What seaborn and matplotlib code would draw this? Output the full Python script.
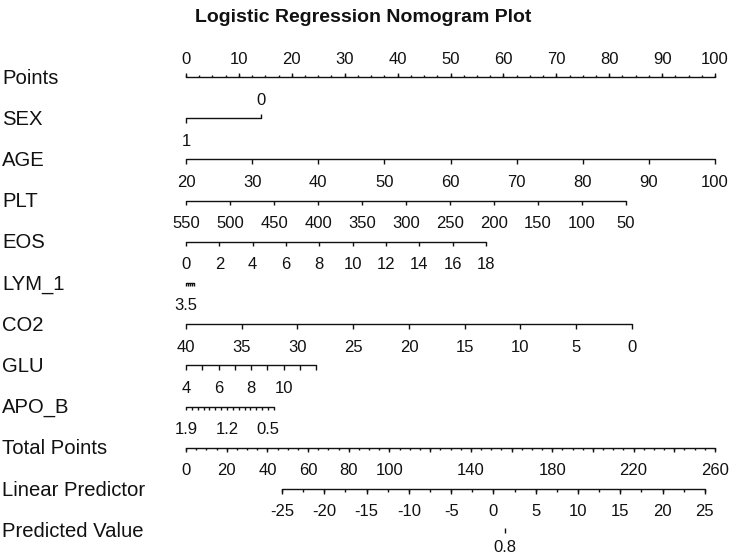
import numpy as np
import matplotlib
matplotlib.use("Agg")
import matplotlib.pyplot as plt
import seaborn as sns

# nomogram scales
# each variable: tick values, and points at first / last tick value
points_labels = [0, 10, 20, 30, 40, 50, 60, 70, 80, 90, 100]

sex_values = [1, 0]
sex_points = [0, 14.2]

age_values = [20, 30, 40, 50, 60, 70, 80, 90, 100]
age_points = [0, 100]

plt_values = [550, 500, 450, 400, 350, 300, 250, 200, 150, 100, 50]
plt_points = [0, 83.2]

eos_values = [0, 2, 4, 6, 8, 10, 12, 14, 16, 18]
eos_points = [0, 56.7]

lym_values = [3.5, 3.0, 2.5, 2.0, 1.5]
lym_labels = [3.5]
lym_points = [0, 1.6]

co2_values = [40, 35, 30, 25, 20, 15, 10, 5, 0]
co2_points = [0, 84.3]

glu_values = [4, 5, 6, 7, 8, 9, 10, 11, 12]
glu_labels = [4, 6, 8, 10]
glu_points = [0, 24.6]

apo_values = [1.9, 1.8, 1.7, 1.6, 1.5, 1.4, 1.3, 1.2, 1.1, 1.0, 0.9, 0.8, 0.7, 0.6, 0.5, 0.4]
apo_labels = [1.9, 1.2, 0.5]
apo_points = [0, 16.6]

total_labels = [0, 20, 40, 60, 80, 100, 140, 180, 220, 260]
total_max = 260

lp_labels = [-25, -20, -15, -10, -5, 0, 5, 10, 15, 20, 25]
lp_total = [47.2, 255.0]   # total points at LP -25 and 25

pred_values = [0.8]

row_names = ['Points', 'SEX', 'AGE', 'PLT', 'EOS', 'LYM_1', 'CO2', 'GLU',
             'APO_B', 'Total Points', 'Linear Predictor', 'Predicted Value']


def to_points(v, values, pts):
    v0, v1 = values[0], values[-1]
    return pts[0] + (np.asarray(v, dtype=float) - v0) / (v1 - v0) * (pts[1] - pts[0])


def fmt(v):
    return ('%g' % v)


sns.set_theme(style='white')
plt.rcParams['font.family'] = ['Liberation Sans', 'DejaVu Sans']

px = 5.29      # pixels per point
x0 = 186       # pixel of point 0
fig = plt.figure(figsize=(7.33, 5.57), dpi=100)
ax = fig.add_axes([0, 0, 1, 1])
ax.set_xlim(-x0 / px, (733 - x0) / px)
ax.set_ylim(557, 0)
ax.axis('off')

lw = 1.0
ink = '#111111'
tick_fs = 12
name_fs = 14.6
below, above = 23, -18
row_y = [77 + i * 41.2 for i in range(len(row_names))]


def scale(y, tick_x, label_x, label_txt, up=False, minor_x=None, major_len=4.5):
    lo = min(min(tick_x), min(minor_x) if minor_x is not None else 1e9)
    hi = max(max(tick_x), max(minor_x) if minor_x is not None else -1e9)
    sns.lineplot(x=[lo, hi], y=[y, y], ax=ax, color=ink, lw=lw)
    d = -1 if up else 1
    ax.vlines(tick_x, y, y + d * major_len, color=ink, lw=lw)
    if minor_x is not None:
        ax.vlines(minor_x, y, y + d * 2.5, color=ink, lw=lw)
    for xv, t in zip(label_x, label_txt):
        ax.text(xv, y + (above if up else below), t, ha='center', va='center',
                fontsize=tick_fs, color=ink)


# names on the left
for name, y in zip(row_names, row_y):
    ax.text(ax.get_xlim()[0] + 2 / px, y + 1, name, ha='left', va='center',
            fontsize=name_fs, color=ink)

# Points
minor = np.arange(0, 100.01, 2.5)
scale(row_y[0], points_labels, points_labels, [fmt(v) for v in points_labels],
      up=True, minor_x=minor)

# SEX: 1 below, 0 above
y = row_y[1]
sx = to_points(sex_values, sex_values, sex_points)
sns.lineplot(x=[sx.min(), sx.max()], y=[y, y], ax=ax, color=ink, lw=lw)
ax.vlines(sx[0], y, y + 4.5, color=ink, lw=lw)
ax.vlines(sx[1], y, y - 4.5, color=ink, lw=lw)
ax.text(sx[0], y + below, fmt(sex_values[0]), ha='center', va='center', fontsize=tick_fs, color=ink)
ax.text(sx[1], y + above, fmt(sex_values[1]), ha='center', va='center', fontsize=tick_fs, color=ink)

# continuous predictors
for i, vals, pts, labs in [(2, age_values, age_points, age_values),
                           (3, plt_values, plt_points, plt_values),
                           (4, eos_values, eos_points, eos_values),
                           (5, lym_values, lym_points, lym_labels),
                           (6, co2_values, co2_points, co2_values),
                           (7, glu_values, glu_points, glu_labels),
                           (8, apo_values, apo_points, apo_labels)]:
    tx = to_points(vals, vals, pts)
    lx = to_points(labs, vals, pts)
    ml = 3.0 if i in (5, 8) else 4.5
    scale(row_y[i], tx, lx, [fmt(v) for v in labs], major_len=ml)

# Total Points
f = 100 / total_max
tot_major = np.arange(0, total_max + 0.1, 20) * f
tot_minor = np.arange(0, total_max + 0.1, 5) * f
scale(row_y[9], tot_major, np.array(total_labels) * f,
      [fmt(v) for v in total_labels], minor_x=tot_minor)

# Linear Predictor
lp_f = lambda lp: (lp_total[0] + (np.asarray(lp, dtype=float) - lp_labels[0])
                   / (lp_labels[-1] - lp_labels[0]) * (lp_total[1] - lp_total[0])) * f
lp_minor = np.arange(lp_labels[0], lp_labels[-1] + 0.1, 2.5)
scale(row_y[10], lp_f(lp_labels), lp_f(lp_labels), [fmt(v) for v in lp_labels],
      minor_x=lp_f(lp_minor))

# Predicted Value
pv = np.array(pred_values)
px_pv = lp_f(np.log(pv / (1 - pv)))
y = row_y[11]
ax.vlines(px_pv, y - 2, y + 2.5, color=ink, lw=lw)
for xv, v in zip(px_pv, pred_values):
    ax.text(xv, y + 17.5, fmt(v), ha='center', va='center', fontsize=tick_fs, color=ink)

# title centred at pixel 363
ax.text((363 - x0) / px, 18, 'Logistic Regression Nomogram Plot',
        ha='center', va='center', fontsize=14, fontweight='bold', color=ink)

fig.savefig('out.png', dpi=100)
